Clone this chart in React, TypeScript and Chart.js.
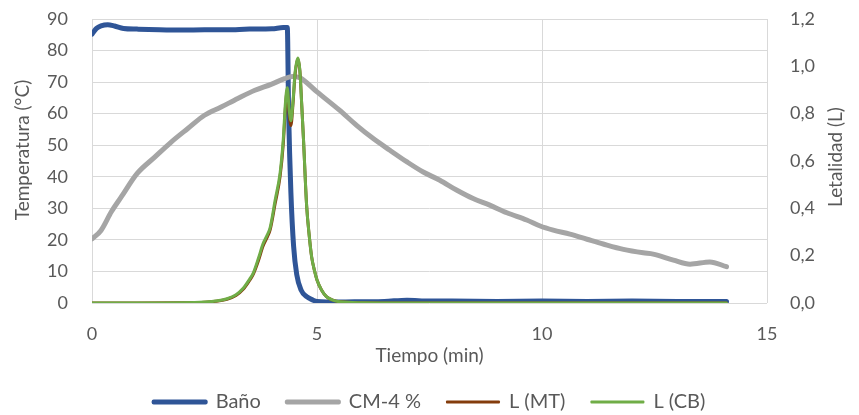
import React, { useEffect, useRef } from "react";
import { Chart, registerables } from "chart.js";

Chart.register(...registerables);

// ---- Data ----
const seriesNames = ["Baño", "CM-4 %", "L (MT)", "L (CB)"];

const bathTime = [0, 0.1, 0.2, 0.35, 0.5, 0.7, 1.0, 1.5, 2.0, 2.5, 3.0, 3.5, 4.0, 4.25, 4.34, 4.37, 4.42, 4.48, 4.55, 4.65, 4.77, 4.9, 5.0, 5.5, 6.0, 6.5, 7.0, 7.5, 8.0, 9.0, 10.0, 11.0, 12.0, 13.0, 14.1];
const bathTemp = [85.2, 87.0, 87.8, 88.2, 87.8, 87.0, 86.8, 86.6, 86.5, 86.6, 86.6, 86.8, 86.9, 87.3, 87.3, 60, 35, 18, 9, 4, 2, 1, 0.5, 0.3, 0.4, 0.5, 0.9, 0.6, 0.6, 0.5, 0.6, 0.5, 0.6, 0.5, 0.5];

const cmTime = [0, 0.2, 0.43, 0.65, 1.0, 1.4, 1.76, 2.13, 2.5, 2.87, 3.24, 3.62, 3.98, 4.28, 4.45, 4.62, 5.0, 5.5, 5.88, 6.25, 6.62, 7.0, 7.36, 7.73, 8.1, 8.47, 8.84, 9.22, 9.66, 9.96, 10.25, 10.62, 11.0, 11.36, 11.81, 12.25, 12.47, 12.92, 13.29, 13.73, 14.1];
const cmTemp = [20.3, 23, 28.9, 33.6, 41, 46.3, 51, 55.3, 59.5, 62.1, 64.8, 67.4, 69.3, 71.1, 71.8, 71.4, 66.9, 61.1, 56.3, 52.1, 48.4, 44.7, 41.5, 38.9, 35.8, 33.1, 31, 28.6, 26.3, 24.4, 23.1, 21.8, 20.2, 18.7, 17, 15.9, 15.5, 13.6, 12.3, 13, 11.5];

const lethTime = [0, 1, 2, 2.5, 2.75, 3.0, 3.2, 3.36, 3.5, 3.58, 3.7, 3.8, 3.9, 3.96, 4.07, 4.18, 4.25, 4.3, 4.34, 4.38, 4.42, 4.47, 4.51, 4.55, 4.58, 4.62, 4.66, 4.7, 4.77, 4.83, 4.88, 4.94, 5.0, 5.1, 5.21, 5.35, 5.51, 6, 7, 8, 9, 10, 11, 12, 13, 14.1];
const lethMT = [0, 0, 0.001, 0.003, 0.007, 0.016, 0.032, 0.058, 0.095, 0.12, 0.18, 0.24, 0.28, 0.31, 0.42, 0.535, 0.67, 0.83, 0.9, 0.8, 0.75, 0.85, 0.96, 1.015, 1.03, 0.98, 0.84, 0.69, 0.41, 0.28, 0.196, 0.14, 0.097, 0.055, 0.027, 0.012, 0.005, 0.001, 0, 0, 0, 0, 0, 0, 0, 0];
const lethCB = [0, 0, 0.001, 0.004, 0.008, 0.018, 0.035, 0.062, 0.1, 0.125, 0.19, 0.25, 0.29, 0.32, 0.435, 0.55, 0.69, 0.85, 0.91, 0.82, 0.77, 0.86, 0.97, 1.02, 1.035, 0.98, 0.84, 0.69, 0.41, 0.28, 0.196, 0.14, 0.097, 0.055, 0.027, 0.012, 0.005, 0.001, 0, 0, 0, 0, 0, 0, 0, 0];

const xTicks = [0, 5, 10, 15];
const leftTitle = "Temperatura (°C)";
const rightTitle = "Letalidad (L)";
const xTitle = "Tiempo (min)";

const colors = ["#2F5597", "#A5A5A5", "#843C0C", "#70AD47"];
const widths = [5, 5, 3, 3];
const textColor = "#595959";
const gridColor = "#D9D9D9";
const FONT = "Lato, 'Open Sans', sans-serif";

const pts = (xs: number[], ys: number[]) => xs.map((x, i) => ({ x, y: ys[i] }));

const titlesPlugin = {
  id: "sideTitles",
  afterDraw(chart: any) {
    const ctx = chart.ctx;
    const draw = (text: string, x: number, y: number, rot: number) => {
      ctx.save();
      ctx.fillStyle = textColor;
      ctx.font = `19px ${FONT}`;
      ctx.textAlign = "center";
      ctx.textBaseline = "middle";
      ctx.translate(x, y);
      ctx.rotate(rot);
      ctx.fillText(text, 0, 0);
      ctx.restore();
    };
    const area = chart.chartArea;
    draw(leftTitle, 23, 150, -Math.PI / 2);
    draw(rightTitle, 836, 157, -Math.PI / 2);
    draw(xTitle, (area.left + area.right) / 2, 356, 0);
  },
};

export default function App() {
  const ref = useRef<HTMLCanvasElement | null>(null);
  useEffect(() => {
    document.body.style.margin = "0";
    if (!ref.current) return;
    const series = [pts(bathTime, bathTemp), pts(cmTime, cmTemp), pts(lethTime, lethMT), pts(lethTime, lethCB)];
    const axes = ["y", "y", "y1", "y1"];
    const chart = new Chart(ref.current, {
      type: "line",
      data: {
        datasets: series.map((d, i) => ({
          label: seriesNames[i],
          data: d,
          yAxisID: axes[i],
          borderColor: colors[i],
          backgroundColor: colors[i],
          borderWidth: widths[i],
          pointRadius: 0,
          borderCapStyle: "round",
          borderJoinStyle: "round",
          cubicInterpolationMode: "monotone",
          order: 4 - i,
        })) as any,
      },
      options: {
        animation: false,
        responsive: false,
        maintainAspectRatio: false,
        layout: { padding: { top: 19, left: 0, right: 0, bottom: 0 } },
        plugins: {
          tooltip: { enabled: false },
          legend: {
            position: "bottom",
            maxHeight: 49,
            labels: {
              boxWidth: 52,
              boxHeight: 1,
              padding: 26,
              color: textColor,
              font: { family: FONT, size: 20 },
              generateLabels: () =>
                seriesNames.map((name, i) => ({
                  text: name,
                  fillStyle: colors[i],
                  strokeStyle: colors[i],
                  lineWidth: widths[i] - 1,
                  lineJoin: "round",
                  hidden: false,
                  datasetIndex: i,
                  fontColor: textColor,
                })) as any,
            },
          },
        },
        scales: {
          x: {
            type: "linear",
            min: 0,
            max: 15,
            afterBuildTicks: (s: any) => {
              s.ticks = xTicks.map((v) => ({ value: v }));
            },
            afterFit: (s: any) => {
              s.height = 63;
            },
            ticks: { color: textColor, font: { family: FONT, size: 18 }, padding: 20 },
            grid: { color: gridColor, drawTicks: false },
            border: { display: false },
          },
          y: {
            position: "left",
            min: 0,
            max: 90,
            ticks: { stepSize: 10, color: textColor, font: { family: FONT, size: 18 }, padding: 3 },
            grid: { color: gridColor, drawTicks: true, tickLength: 21, tickColor: "rgba(0,0,0,0)" },
            border: { display: false },
            afterFit: (s: any) => {
              s.width = 92;
            },
          },
          y1: {
            position: "right",
            min: 0,
            max: 1.2,
            ticks: {
              stepSize: 0.2,
              color: textColor,
              font: { family: FONT, size: 18 },
              padding: 3,
              callback: (v: any) => Number(v).toFixed(1).replace(".", ","),
            },
            grid: { color: "rgba(0,0,0,0)", drawTicks: true, tickLength: 20, tickColor: "rgba(0,0,0,0)", drawOnChartArea: false },
            border: { display: false },
            afterFit: (s: any) => {
              s.width = 92;
            },
          },
        },
      },
      plugins: [titlesPlugin],
    });
    return () => chart.destroy();
  }, []);
  return (
    <div style={{ width: 859, height: 415 }}>
      <canvas ref={ref} width={859} height={415} style={{ display: "block" }} />
    </div>
  );
}
